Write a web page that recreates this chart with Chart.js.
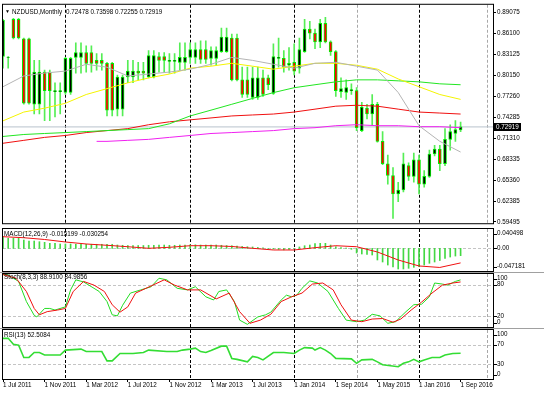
<!DOCTYPE html>
<html lang="en">
<head>
<meta charset="UTF-8">
<title>NZDUSD Monthly</title>
<style>
  body { margin: 0; background: #fff; }
  #wrap { position: relative; width: 544px; height: 393px; overflow: hidden; }
  canvas { position: absolute; left: 0; }
</style>
</head>
<body>
<div id="wrap">
  <canvas id="mainChart" width="544" height="228" style="top:0px"></canvas>
  <canvas id="macdChart" width="544" height="44" style="top:228px"></canvas>
  <canvas id="stochChart" width="544" height="56" style="top:272px"></canvas>
  <canvas id="rsiChart" width="544" height="65" style="top:328px"></canvas>
</div>
<script src="https://cdn.jsdelivr.net/npm/chart.js"></script>
<script>
// ---------- data ----------
const xLabels = ['1 Jul 2011', '1 Nov 2011', '1 Mar 2012', '1 Jul 2012', '1 Nov 2012', '1 Mar 2013',
                 '1 Jul 2013', '1 Jan 2014', '1 Sep 2014', '1 May 2015', '1 Jan 2016', '1 Sep 2016'];
const xLabelBars = [0, 8, 16, 24, 32, 40, 48, 56, 64, 72, 80, 88];
const yearBars = [12, 36, 56, 80];
const gridBars = [68, 93];
const priceTicks = [0.89075, 0.86100, 0.83125, 0.80150, 0.77260, 0.74285, 0.71310, 0.68335, 0.65360, 0.62385, 0.59495];
const bid = 0.72919;

const open = [0.8287,0.8274,0.8811,0.8811,0.8536,0.8536,0.7612,0.7612,0.8067,0.8067,
  0.7791,0.7791,0.7778,0.7778,0.8274,0.8274,0.8343,0.8343,0.8232,0.8232,
  0.8191,0.8191,0.7543,0.7543,0.7998,0.7998,0.8081,0.8081,0.7998,0.7998,
  0.8287,0.8287,0.8219,0.8219,0.8205,0.8205,0.8274,0.8274,0.8384,0.8384,
  0.8260,0.8260,0.8356,0.8356,0.8549,0.8549,0.7957,0.7957,0.7709,0.7709,
  0.7984,0.7984,0.7764,0.8260,0.8260,0.8164,0.8205,0.8122,0.8356,0.8673,
  0.8618,0.8494,0.8756,0.8494,0.8356,0.7791,0.7778,0.7805,0.7805,0.7240,
  0.7557,0.7474,0.7612,0.7088,0.6771,0.6606,0.6344,0.6400,0.6744,0.6592,
  0.6827,0.6482,0.6592,0.6909,0.6978,0.6771,0.7116,0.7199,0.72478];
const high = [0.8811,0.8287,0.8825,0.8825,0.8549,0.8549,0.8232,0.8232,0.8095,0.8095,
  0.7916,0.7916,0.8274,0.8274,0.8480,0.8480,0.8439,0.8439,0.8329,0.8329,
  0.8205,0.8205,0.8026,0.8026,0.8232,0.8232,0.8205,0.8205,0.8370,0.8370,
  0.8343,0.8343,0.8329,0.8329,0.8480,0.8480,0.8480,0.8480,0.8508,0.8508,
  0.8425,0.8425,0.8687,0.8687,0.8604,0.8604,0.8136,0.8136,0.8136,0.8136,
  0.8095,0.8026,0.8467,0.8549,0.8370,0.8412,0.8467,0.8549,0.8811,0.8783,
  0.8673,0.8811,0.8839,0.8508,0.8370,0.7984,0.7957,0.7902,0.7847,0.7640,
  0.7612,0.7750,0.7640,0.7226,0.6895,0.6717,0.6510,0.6923,0.6785,0.6923,
  0.6895,0.6675,0.6964,0.7033,0.7033,0.7268,0.7323,0.7380,0.73598];
const low = [0.8122,0.8122,0.8536,0.8536,0.7612,0.7612,0.7474,0.7474,0.7380,0.7380,
  0.7433,0.7474,0.7750,0.7750,0.8053,0.8053,0.8067,0.8067,0.8095,0.8095,
  0.7447,0.7447,0.7447,0.7447,0.7916,0.7916,0.7957,0.7957,0.7984,0.7984,
  0.8067,0.8067,0.8053,0.8053,0.8095,0.8095,0.8191,0.8191,0.8191,0.8191,
  0.8164,0.8164,0.8343,0.8343,0.7943,0.7943,0.7709,0.7709,0.7681,0.7681,
  0.7722,0.7819,0.7750,0.8136,0.8067,0.8095,0.8026,0.8053,0.8343,0.8536,
  0.8398,0.8412,0.8480,0.8301,0.7722,0.7709,0.7681,0.7750,0.7240,0.7226,
  0.7405,0.7309,0.7075,0.6758,0.6482,0.6000,0.6234,0.6372,0.6537,0.6510,
  0.6344,0.6441,0.6579,0.6882,0.6675,0.6744,0.6964,0.7088,0.72255];
const close = [0.8797,0.8280,0.8549,0.8549,0.7626,0.7626,0.8067,0.8067,0.7805,0.7805,
  0.7805,0.7805,0.8260,0.8260,0.8343,0.8343,0.8191,0.8191,0.8191,0.8191,
  0.7529,0.7529,0.7998,0.7998,0.8081,0.8081,0.8053,0.8053,0.8301,0.8301,
  0.8232,0.8232,0.8232,0.8232,0.8274,0.8274,0.8384,0.8384,0.8246,0.8246,
  0.8370,0.8370,0.8563,0.8563,0.7957,0.7957,0.7750,0.7750,0.7984,0.7984,
  0.7750,0.7888,0.8287,0.8274,0.8136,0.8191,0.8081,0.8384,0.8673,0.8618,
  0.8494,0.8756,0.8494,0.8356,0.7805,0.7833,0.7847,0.7819,0.7281,0.7571,
  0.7474,0.7612,0.7088,0.6771,0.6606,0.6344,0.6400,0.6771,0.6592,0.6827,
  0.6482,0.6592,0.6909,0.6978,0.6771,0.7116,0.7226,0.7254,0.72919];

// moving averages, read every 4th bar
const maIdx = [0,4,8,12,16,20,24,28,32,36,40,44,48,52,56,60,64,68,72,76,80,84,88];
const maSilver = [0.7860,0.8012,0.8053,0.8081,0.8177,0.8136,0.8012,0.8039,0.8067,0.8108,0.8177,0.8274,
  0.8232,0.8177,0.8122,0.8191,0.8205,0.8150,0.8095,0.7778,0.7309,0.7088,0.6937];
const maYellow = [0.7378,0.7502,0.7557,0.7626,0.7750,0.7833,0.7915,0.7984,0.8039,0.8122,0.8150,0.8191,
  0.8150,0.8108,0.8150,0.8191,0.8191,0.8163,0.8108,0.7970,0.7860,0.7750,0.7681];
const maGreen = [0.7157,0.7185,0.7199,0.7212,0.7226,0.7240,0.7254,0.7268,0.7336,0.7447,0.7529,0.7612,
  0.7695,0.7777,0.7846,0.7888,0.7929,0.7957,0.7957,0.7943,0.7929,0.7901,0.7888];
const maRed = [0.7061,0.7102,0.7144,0.7171,0.7212,0.7240,0.7268,0.7323,0.7364,0.7392,0.7419,0.7447,
  0.7461,0.7474,0.7502,0.7543,0.7585,0.7598,0.7585,0.7543,0.7502,0.7488,0.7474];
const magentaIdx = [18,20,24,28,32,36,40,44,48,52,56,60,64,68,72,76,80,84,88];
const maMagenta = [0.7088,0.7088,0.7102,0.7116,0.7144,0.7171,0.7199,0.7212,0.7226,0.7240,0.7268,0.7281,
  0.7309,0.7323,0.7309,0.7309,0.7295,0.7295,0.7281];

const macdHist = [0.0244,0.0211,0.0211,0.0211,0.0175,0.0154,0.0154,0.0140,0.0127,0.0106,
  0.0106,0.0092,0.0092,0.0092,0.0086,0.0086,0.0086,0.0086,0.0086,0.0086,
  0.0086,0.0086,0.0071,0.0065,0.0060,0.0060,0.0060,0.0060,0.0065,0.0065,
  0.0070,0.0070,0.0065,0.0065,0.0070,0.0070,0.0075,0.0075,0.0070,0.0070,
  0.0071,0.0071,0.0065,0.0060,0.0056,0.0050,0.0040,0.0035,0.0030,0.0020,
  0.0010,0.0000,-0.0013,-0.0020,-0.0030,-0.0020,0.0000,0.0030,0.0056,0.0070,
  0.0098,0.0106,0.0106,0.0070,0.0035,0.0019,0.0008,-0.0020,-0.0096,-0.0117,
  -0.0127,-0.0138,-0.0242,-0.0284,-0.0347,-0.0388,-0.0430,-0.0430,-0.0416,-0.0395,
  -0.0382,-0.0347,-0.0311,-0.0284,-0.0253,-0.0211,-0.0180,-0.0160,-0.0152];
const macdSignal = [0.0244,0.0223,0.0186,0.0134,0.0092,0.0065,0.0035,0.0002,0.0023,0.0056,0.0056,0.0040,
  0.0002,-0.0033,-0.0033,0.0015,0.0056,0.0035,-0.0075,-0.0242,-0.0367,-0.0398,-0.0303];

const stochK = [[0,99],[1,98],[3,86],[4.5,48],[6,22],[6.5,19],[8,35],[9,35],[10,32],[12,38],[13,70],[14,89],
  [15.5,85],[17.5,73],[18.5,67],[20,48],[21,23],[22,21],[23,41],[24.5,64],[26.5,70],[28.5,76],[30,92],
  [31.5,89],[33.5,73],[35.5,70],[37,76],[39,57],[40.5,51],[41.5,67],[43,70],[44.5,48],[45.5,13],[47,5],
  [49,19],[50.5,23],[51.5,28],[53.5,51],[54.5,60],[55.5,57],[56.5,60],[57.5,73],[59,87],[60.5,83],
  [62.5,67],[64.5,35],[66,13],[68,10],[69.5,13],[71,24],[72.5,21],[74,7],[75.5,10],[77.5,29],[79,42],
  [80.5,43],[82,57],[83,83],[84.5,81],[85.5,79],[87,86],[88,88.91]];
const stochD = [[0,99],[2.5,92],[4.5,67],[6,35],[7,23],[8.5,29],[10.5,32],[12,35],[13.5,67],[15.5,86],
  [17.5,79],[19.5,67],[21,42],[22.5,28],[24,38],[25.5,64],[27.5,73],[31,89],[33,79],[35.5,70],[38,70],
  [41,53],[43.5,64],[45.5,29],[47.5,7],[49.5,13],[51.5,24],[53.5,48],[55.5,57],[57.5,64],[59.5,81],
  [61.5,83],[63.5,70],[65,42],[67,13],[69,10],[71,15],[73,16],[75,9],[76.5,15],[78.5,32],[80.5,47],
  [82.5,64],[84.5,79],[86.5,83],[88,84.99]];
const rsi = [[0,83],[1,83],[2,71],[3,69],[4,44],[5,44],[6,54],[7,54],[8,49],[11,49],[12,59],[15,61],
  [16,56],[19,56],[20,37],[21,37],[22.5,52],[25,52],[27,54],[28,59],[31.5,56],[33.5,56],[34.5,59],[36,61],
  [37,63],[38,56],[39,54],[40,58],[42,67],[43,67],[44,42],[45,40],[47,35],[48,46],[49,44],[50,39],[52,54],
  [54,54],[56,52],[57,59],[58,64],[59.5,63],[60,59],[61,64],[62,59],[63,52],[64,42],[67,41],[68,32],
  [69,39],[71,40],[72,35],[73,29],[76,25],[77,32],[78,35],[79,40],[80,35],[81,39],[82.5,44],[84,44],
  [85,49],[86.5,52],[88,52.5]];

// ---------- drawing ----------
const FONT = "'Liberation Sans', Arial, sans-serif";
const X_MIN = 0, X_MAX = 94.23;

const panels = {
  mainChart: { levels: [], gap: false, bid: true,
    texts: [['NZDUSD,Monthly', 12, 7], ['0.72478 0.73598 0.72255 0.72919', 66, 7]] },
  macdChart: { levels: [0], gap: false,
    texts: [['MACD(12,26,9) -0.015199 -0.030254', 4, 5.5]],
    side: [[0.040498, '0.040498'], [0, '0.00'], [-0.047181, '-0.047181']] },
  stochChart: { levels: [80, 20], gap: true,
    texts: [['Stoch(8,3,3) 88.9100 84.9856', 4, 3.5]],
    side: [[100, '100'], [80, '80'], [20, '20'], [0, '0']] },
  rsiChart: { levels: [70, 30], gap: true,
    texts: [['RSI(13) 52.5084', 4, 5]],
    side: [[100, '100'], [70, '70'], [30, '30'], [0, '0']] }
};

function vline(ctx, x, a, i, color) {
  const px = Math.round(x.getPixelForValue(i)) + 0.5;
  if (px < a.left || px > a.right) return;
  ctx.strokeStyle = color;
  ctx.beginPath();
  ctx.moveTo(px, a.top);
  ctx.lineTo(px, a.bottom);
  ctx.stroke();
}

const deco = {
  id: 'deco',
  beforeDatasetsDraw(chart) {
    const cfg = panels[chart.canvas.id];
    const { ctx, chartArea: a, scales: { x, y } } = chart;
    ctx.save();
    ctx.lineWidth = 1;
    ctx.setLineDash([3, 2]);
    ctx.strokeStyle = '#c4c4c4';
    cfg.levels.forEach(v => {
      const py = Math.round(y.getPixelForValue(v)) + 0.5;
      ctx.beginPath();
      ctx.moveTo(a.left, py);
      ctx.lineTo(a.right, py);
      ctx.stroke();
    });
    gridBars.forEach(i => vline(ctx, x, a, i, '#a8a8a8'));
    yearBars.forEach(i => vline(ctx, x, a, i, '#000'));
    ctx.restore();
  },
  afterDraw(chart) {
    const cfg = panels[chart.canvas.id];
    const { ctx, chartArea: a, scales: { y } } = chart;
    ctx.save();
    if (cfg.gap) {
      ctx.fillStyle = '#a0a0a0';
      ctx.fillRect(0, a.top - 2, chart.width, 1);
    }
    ctx.strokeStyle = '#000';
    ctx.lineWidth = 1;
    ctx.strokeRect(a.left - 0.5, a.top - 0.5, a.right - a.left + 1, a.bottom - a.top + 1);

    ctx.font = '6.3px ' + FONT;
    ctx.fillStyle = '#000';
    ctx.textBaseline = 'middle';
    cfg.texts.forEach(t => ctx.fillText(t[0], t[1], a.top + t[2]));
    if (cfg.bid) {
      ctx.font = '5px ' + FONT;
      ctx.fillText('\u25BC', 5, a.top + 7);
      ctx.font = '6.3px ' + FONT;
      const py = Math.round(y.getPixelForValue(bid));
      ctx.fillRect(a.right + 1, py - 4, 27, 8);
      ctx.fillStyle = '#fff';
      ctx.fillText(bid.toFixed(5), a.right + 3, py);
      ctx.fillStyle = '#000';
    }
    (cfg.side || []).forEach(s => {
      const py = Math.min(Math.max(y.getPixelForValue(s[0]), a.top + 4.5), a.bottom - 4.5);
      ctx.fillRect(a.right + 1, Math.round(py), 3, 1);
      ctx.fillText(s[1], a.right + 4, py);
    });
    ctx.restore();
  }
};

function lineSet(points, color, width) {
  return { type: 'line', data: points, borderColor: color, borderWidth: width || 1,
           pointRadius: 0, tension: 0, fill: false, order: 0 };
}
function pts(idx, vals) { return idx.map((x, k) => ({ x: x, y: vals[k] })); }
function pairs(list) { return list.map(p => ({ x: p[0], y: p[1] })); }

const baseOptions = {
  responsive: false,
  animation: false,
  events: [],
  plugins: { legend: { display: false }, tooltip: { enabled: false } }
};

function hiddenX() {
  return { type: 'linear', min: X_MIN, max: X_MAX, offset: false, display: false };
}

const bars = open.map((_, i) => i);

new Chart(document.getElementById('mainChart'), {
  type: 'bar',
  data: {
    datasets: [
      lineSet(pts(maIdx, maSilver), '#b4b4b4'),
      lineSet(pts(maIdx, maYellow), '#f4f400'),
      lineSet(pts(maIdx, maGreen), '#22e622'),
      lineSet(pts(maIdx, maRed), '#f01010'),
      lineSet(pts(magentaIdx, maMagenta), '#f020f0'),
      Object.assign(lineSet([{ x: X_MIN, y: bid }, { x: X_MAX, y: bid }], '#b8c2cc'), { order: 3 }),
      {
        type: 'bar',
        data: bars.map(i => ({ x: i, y: [open[i], close[i]] })),
        backgroundColor: bars.map(i => close[i] >= open[i] ? '#000000' : '#ff0000'),
        borderColor: '#00ee00',
        borderWidth: 1,
        borderSkipped: false,
        barThickness: 3,
        grouped: false,
        order: 1
      },
      {
        type: 'bar',
        data: bars.map(i => ({ x: i, y: [low[i], high[i]] })),
        backgroundColor: '#55ee55',
        barThickness: 1,
        grouped: false,
        order: 2
      }
    ]
  },
  options: Object.assign({}, baseOptions, {
    layout: { padding: { left: 3, top: 3, bottom: 1, right: 0 } },
    scales: {
      x: hiddenX(),
      y: {
        type: 'linear', position: 'right', min: 0.5931, max: 0.9018,
        afterBuildTicks: s => { s.ticks = priceTicks.map(v => ({ value: v })); },
        afterFit: s => { s.width = 51; },
        ticks: { callback: v => v.toFixed(5), padding: 1, color: '#000', font: { family: FONT, size: 6.3 } },
        grid: { drawOnChartArea: false, tickLength: 3, color: '#000' },
        border: { display: true, color: '#000' }
      }
    }
  }),
  plugins: [deco]
});

new Chart(document.getElementById('macdChart'), {
  type: 'bar',
  data: {
    datasets: [
      lineSet(pts(maIdx, macdSignal), '#f01010'),
      { type: 'bar', data: macdHist.map((v, i) => ({ x: i, y: v })), backgroundColor: '#44d844',
        barThickness: 1, grouped: false, order: 1 }
    ]
  },
  options: Object.assign({}, baseOptions, {
    layout: { padding: { left: 3, top: 1, bottom: 1, right: 51 } },
    scales: { x: hiddenX(), y: { type: 'linear', min: -0.047181, max: 0.040498, display: false } }
  }),
  plugins: [deco]
});

new Chart(document.getElementById('stochChart'), {
  type: 'line',
  data: {
    datasets: [
      lineSet(pairs(stochD), '#f01010'),
      lineSet(pairs(stochK), '#22dd22')
    ]
  },
  options: Object.assign({}, baseOptions, {
    layout: { padding: { left: 3, top: 2, bottom: 1, right: 51 } },
    scales: { x: hiddenX(), y: { type: 'linear', min: 0, max: 100, display: false } }
  }),
  plugins: [deco]
});

new Chart(document.getElementById('rsiChart'), {
  type: 'line',
  data: { datasets: [lineSet(pairs(rsi), '#33dd33', 1.6)] },
  options: Object.assign({}, baseOptions, {
    layout: { padding: { left: 3, top: 2, bottom: 0, right: 51 } },
    scales: {
      x: {
        type: 'linear', min: X_MIN, max: X_MAX, offset: false,
        afterBuildTicks: s => { s.ticks = xLabelBars.map(v => ({ value: v })); },
        afterFit: s => { s.height = 14; },
        ticks: { autoSkip: false, maxRotation: 0, align: 'start', padding: -1, color: '#000',
                 font: { family: FONT, size: 6.3 }, callback: (v, i) => xLabels[i] },
        grid: { drawOnChartArea: false, tickLength: 3, color: '#000' },
        border: { display: false }
      },
      y: { type: 'linear', min: 0, max: 100, display: false }
    }
  }),
  plugins: [deco]
});
</script>
</body>
</html>
